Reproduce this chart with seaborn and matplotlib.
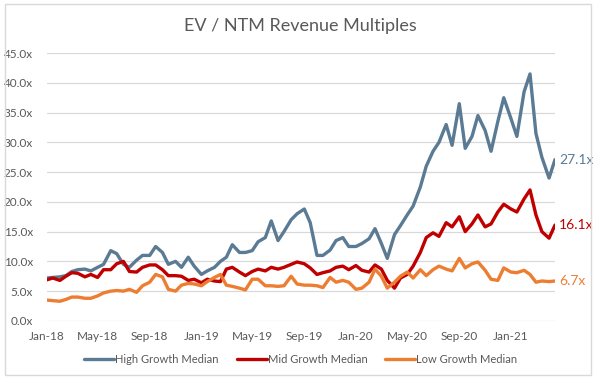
import numpy as np
import pandas as pd
import matplotlib
matplotlib.use("Agg")
import matplotlib.pyplot as plt
import matplotlib.dates as mdates
from matplotlib.patches import Rectangle
import seaborn as sns

# semi-monthly observation dates, Jan-18 .. mid Apr-21
dates = pd.date_range("2018-01-01", "2021-04-15", freq="SMS")

high_growth = [7.2, 7.3, 7.4, 7.6, 8.3, 8.6, 8.7, 8.4, 9.0, 9.5,
               11.8, 11.3, 9.5, 9.0, 10.2, 11.0, 11.0, 12.5, 11.5, 9.5,
               10.0, 9.0, 10.7, 9.2, 7.8, 8.4, 9.0, 10.0, 10.7, 12.8,
               11.5, 11.5, 11.8, 13.3, 14.0, 16.8, 13.5, 15.0, 17.0, 18.0,
               18.8, 16.5, 11.0, 11.0, 11.9, 13.5, 14.0, 12.5, 12.5, 13.0,
               13.8, 15.5, 13.0, 10.5, 14.5, 16.0, 17.8, 19.3, 22.5, 26.0,
               28.5, 30.0, 33.0, 29.5, 36.5, 29.0, 31.0, 34.5, 32.0, 28.5,
               33.5, 37.5, 34.0, 31.0, 38.5, 41.5, 31.5, 27.5, 24.0, 27.1]

mid_growth = [6.9, 7.2, 6.8, 7.5, 8.1, 8.0, 7.4, 7.8, 7.3, 8.6,
              8.6, 9.6, 10.0, 8.3, 8.2, 9.0, 9.4, 9.4, 8.6, 7.6,
              7.6, 7.5, 6.8, 7.0, 6.4, 7.0, 6.7, 6.6, 8.7, 9.0,
              8.2, 7.6, 8.3, 8.7, 8.4, 9.0, 8.7, 9.0, 9.5, 9.9,
              9.6, 8.9, 7.8, 8.1, 8.4, 9.0, 9.2, 8.6, 9.3, 8.5,
              8.2, 9.4, 8.7, 6.8, 5.5, 7.2, 7.8, 9.2, 11.5, 14.0,
              14.8, 14.2, 16.5, 15.8, 17.5, 15.0, 16.3, 17.8, 15.8, 16.3,
              18.3, 19.6, 18.8, 18.3, 20.5, 22.0, 17.8, 15.0, 13.9, 16.1]

low_growth = [3.5, 3.4, 3.3, 3.6, 4.0, 4.0, 3.8, 3.8, 4.2, 4.7,
              5.0, 5.1, 5.0, 5.3, 4.8, 5.9, 6.5, 7.8, 7.4, 5.3,
              5.0, 6.0, 6.3, 6.2, 5.9, 6.6, 7.3, 7.8, 6.0, 5.8,
              5.5, 5.2, 7.0, 7.0, 5.9, 5.9, 5.8, 5.9, 7.5, 6.2,
              6.0, 6.0, 5.9, 5.6, 7.3, 6.5, 6.8, 6.5, 5.3, 5.5,
              6.5, 8.7, 7.5, 5.5, 6.5, 7.5, 8.2, 7.2, 8.6, 7.6,
              8.6, 9.2, 8.7, 8.4, 10.5, 8.9, 9.6, 9.9, 8.5, 7.0,
              6.8, 8.9, 8.2, 8.1, 8.5, 7.8, 6.5, 6.7, 6.6, 6.7]

series_names = ["High Growth Median", "Mid Growth Median", "Low Growth Median"]
series_colors = ["#5b7b94", "#c00000", "#ed7d31"]
series_values = [high_growth, mid_growth, low_growth]

sns.set_style("white")
plt.rcParams["font.family"] = ["Lato", "DejaVu Sans"]

fig = plt.figure(figsize=(6, 3.82), dpi=100)
ax = fig.add_axes([0.078, 0.160, 0.847, 0.701])

for name, color, vals in zip(series_names, series_colors, series_values):
    sns.lineplot(x=dates, y=vals, color=color, linewidth=2.4, label=name, ax=ax)
    ax.annotate(f"{vals[-1]:.1f}x", xy=(dates[-1], vals[-1]), xytext=(3, 0),
                textcoords="offset points", va="center", ha="left",
                color=color, fontsize=10)

ax.set_ylim(0, 45)
ax.set_yticks(np.arange(0, 46, 5))
ax.yaxis.set_major_formatter(plt.FuncFormatter(lambda v, p: f"{v:.1f}x"))
ax.set_xlim(pd.Timestamp("2018-01-01"), pd.Timestamp("2021-04-15"))
ax.xaxis.set_major_locator(mdates.MonthLocator(bymonth=[1, 5, 9]))
ax.xaxis.set_major_formatter(mdates.DateFormatter("%b-%y"))
ax.grid(axis="y", color="#d9d9d9", linewidth=0.9)
ax.grid(axis="x", visible=False)
for s in ax.spines.values():
    s.set_visible(False)
ax.tick_params(axis="both", length=0, labelsize=8.5, colors="#595959")
ax.tick_params(axis="y", pad=10)
ax.tick_params(axis="x", pad=7)
ax.set_xlabel("")
ax.set_ylabel("")

ax.legend(loc="upper center", bbox_to_anchor=(0.5, -0.085), ncol=3, frameon=False,
          fontsize=8, handlelength=2.7, columnspacing=1.6, handletextpad=0.1,
          labelcolor="#595959")

fig.text(0.5, 0.932, "EV / NTM Revenue Multiples", ha="center", va="center",
         fontsize=13, color="#595959")
fig.patches.append(Rectangle((0.008, 0.018), 0.977, 0.971, transform=fig.transFigure,
                             fill=False, edgecolor="#d9d9d9", linewidth=1))

fig.savefig("out.png", dpi=100)
